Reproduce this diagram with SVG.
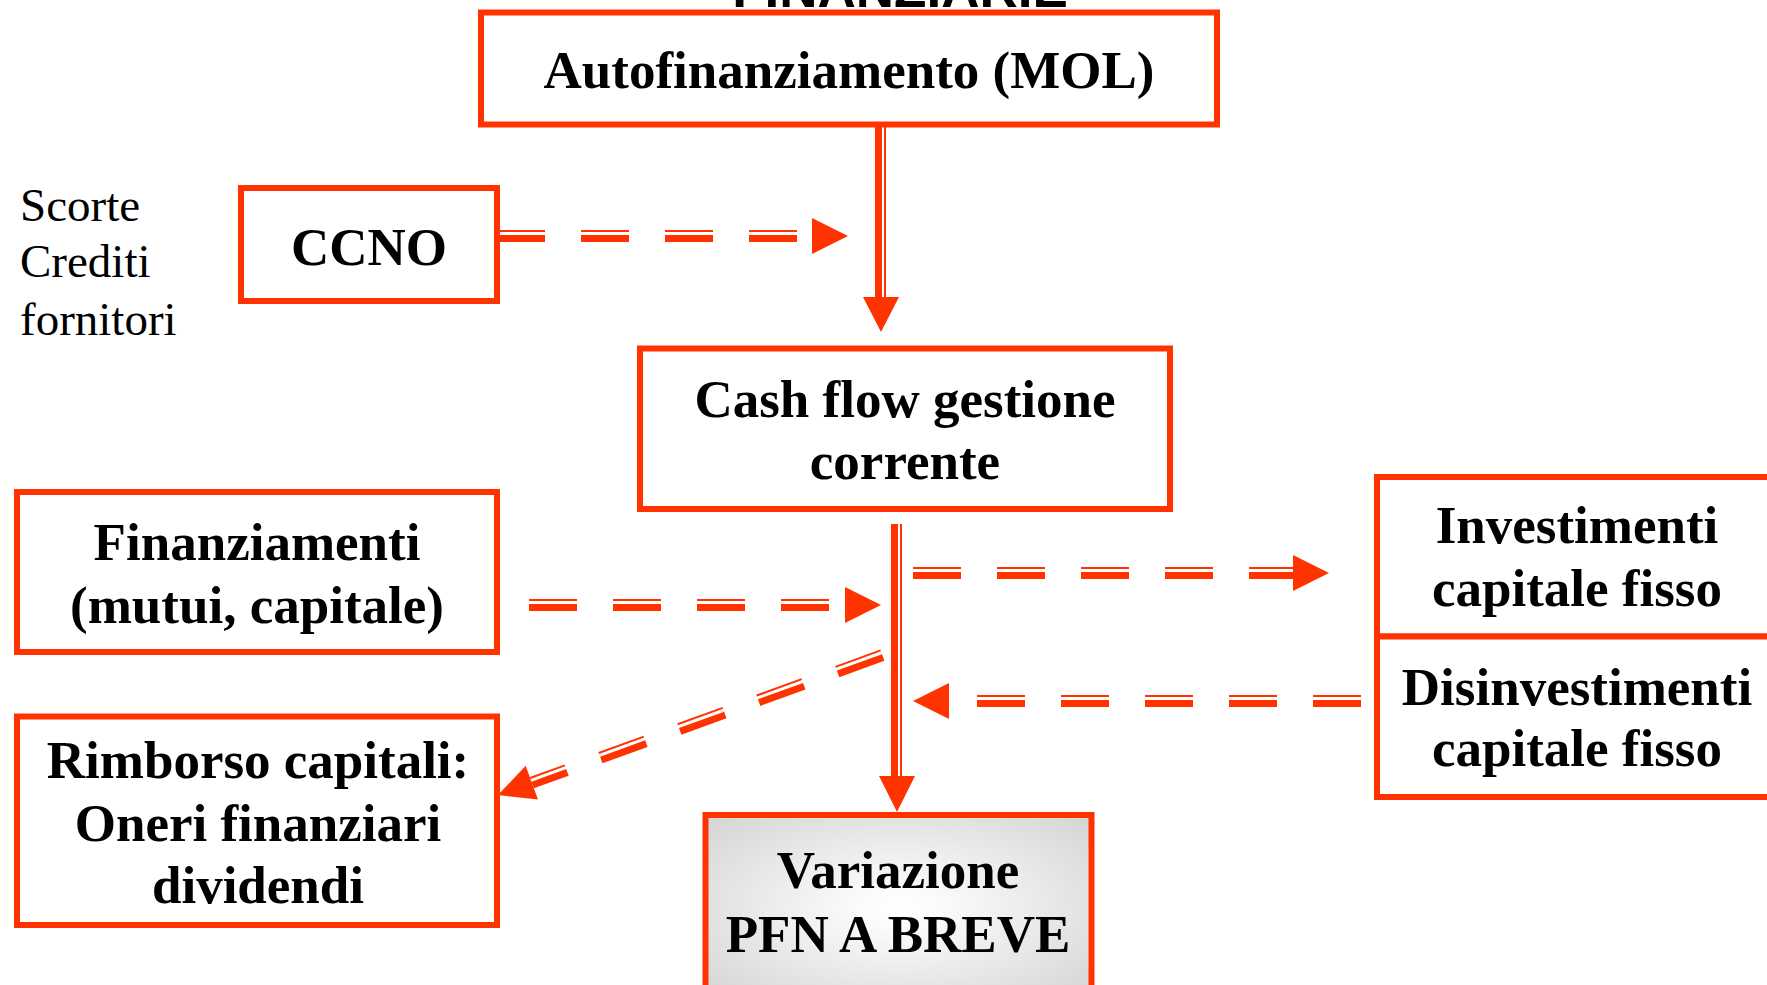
<svg xmlns="http://www.w3.org/2000/svg" width="1767" height="985" viewBox="0 0 1767 985">
<style>
.box{fill:#fff;stroke:#ff3300;stroke-width:6}
.t{font-family:"Liberation Serif","Times New Roman",serif;font-weight:bold;font-size:53px;fill:#000;text-anchor:middle}
.side{font-family:"Liberation Serif","Times New Roman",serif;font-size:47px;fill:#000}
.title{font-family:"Liberation Sans",Arial,sans-serif;font-weight:bold;font-size:53px;fill:#000;text-anchor:middle}
.thick{stroke:#ff3300;stroke-width:7;fill:none}
.thin{stroke:#ff3300;stroke-width:2;fill:none}
.dash{stroke-dasharray:48 36}
.head{fill:#ff3300}
</style>
<defs>
<radialGradient id="gray" cx="0.5" cy="0.5" r="0.7">
<stop offset="0" stop-color="#ffffff"/>
<stop offset="0.15" stop-color="#fbfbfb"/>
<stop offset="1" stop-color="#d4d4d4"/>
</radialGradient>
</defs>
<rect width="1767" height="985" fill="#fff"/>
<text class="title" x="900" y="7">FINANZIARIE</text>
<g id="side-labels">
<text class="side" x="20" y="221">Scorte</text>
<text class="side" x="20" y="277">Crediti</text>
<text class="side" x="20" y="335">fornitori</text>
</g>
<g id="connectors">
<line class="thick" x1="878.5" y1="127" x2="878.5" y2="298"/>
<line class="thin" x1="885" y1="127" x2="885" y2="298"/>
<polygon class="head" points="863,297 899,297 881,332"/>
<line class="thick dash" x1="497" y1="238.5" x2="812" y2="238.5"/>
<line class="thin dash" x1="497" y1="231" x2="812" y2="231"/>
<polygon class="head" points="812,218 812,254 848,236"/>
<line class="thick" x1="894.5" y1="524" x2="894.5" y2="777"/>
<line class="thin" x1="901" y1="524" x2="901" y2="777"/>
<polygon class="head" points="879,776 915,776 897,812"/>
<line class="thick dash" x1="529" y1="607.5" x2="845" y2="607.5"/>
<line class="thin dash" x1="529" y1="600" x2="845" y2="600"/>
<polygon class="head" points="845,587 845,623 881,605"/>
<line class="thick dash" x1="913" y1="575.5" x2="1293" y2="575.5"/>
<line class="thin dash" x1="913" y1="568" x2="1293" y2="568"/>
<polygon class="head" points="1293,555 1293,591 1329,573"/>
<line class="thick dash" x1="1361" y1="703.5" x2="949" y2="703.5"/>
<line class="thin dash" x1="1361" y1="696" x2="949" y2="696"/>
<polygon class="head" points="949,683 949,719 913,701"/>
<g transform="translate(498,795) rotate(-20)">
<line class="thick dash" x1="409" y1="2.5" x2="36" y2="2.5"/>
<line class="thin dash" x1="409" y1="-5" x2="36" y2="-5"/>
<polygon class="head" points="0,0 36,-18 36,18"/>
</g>
</g>
<g id="node-autofinanziamento">
<rect class="box" x="481" y="12.5" width="736" height="112"/>
<text class="t" x="849" y="88">Autofinanziamento (MOL)</text>
</g>
<g id="node-ccno">
<rect class="box" x="241" y="188" width="256" height="113"/>
<text class="t" x="369" y="265">CCNO</text>
</g>
<g id="node-cashflow">
<rect class="box" x="640" y="348.5" width="530" height="160.5"/>
<text class="t" x="905" y="417">Cash flow gestione</text>
<text class="t" x="905" y="479">corrente</text>
</g>
<g id="node-finanziamenti">
<rect class="box" x="17" y="492" width="480" height="160"/>
<text class="t" x="257" y="560">Finanziamenti</text>
<text class="t" x="257" y="623">(mutui, capitale)</text>
</g>
<g id="node-rimborso">
<rect class="box" x="17" y="716.5" width="480" height="208.5"/>
<text class="t" x="258" y="778">Rimborso capitali:</text>
<text class="t" x="258" y="841">Oneri finanziari</text>
<text class="t" x="258" y="903">dividendi</text>
</g>
<g id="node-variazione">
<rect x="705.5" y="815" width="386" height="185" fill="url(#gray)" stroke="#ff3300" stroke-width="6"/>
<text class="t" x="898" y="888">Variazione</text>
<text class="t" x="898" y="952">PFN A BREVE</text>
</g>
<g id="node-investimenti">
<rect class="box" x="1377" y="477" width="430" height="159.5"/>
<text class="t" x="1577" y="543">Investimenti</text>
<text class="t" x="1577" y="606">capitale fisso</text>
</g>
<g id="node-disinvestimenti">
<rect class="box" x="1377" y="636.5" width="430" height="160.5"/>
<text class="t" x="1577" y="705">Disinvestimenti</text>
<text class="t" x="1577" y="766">capitale fisso</text>
</g>
</svg>
